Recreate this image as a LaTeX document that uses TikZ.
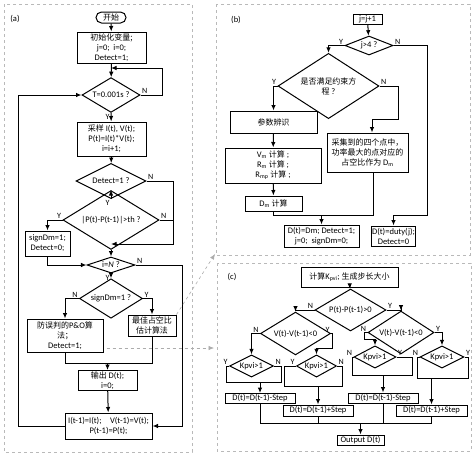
\documentclass[tikz,border=0pt]{standalone}
\usepackage{fontspec}
\setmainfont{Carlito}
\newfontfamily\cjk[Scale=0.94]{Noto Sans CJK SC}
\usetikzlibrary{positioning, shapes.geometric, arrows.meta}
\newcommand{\cn}[1]{{\cjk #1}}

\begin{document}
\begin{tikzpicture}[
          x = 1pt, y = -1pt,
       font = \fontsize{8.5}{10}\selectfont,
         >={Latex[length=5.5pt,width=4.5pt]},
 line width = 1pt,
     wh/.style 2 args = {minimum width=#1, minimum height=#2},
        box/.style = {rectangle, draw, align=center, inner sep=1pt},
        dia/.style = {diamond, draw, align=center, inner sep=-2pt},
         yn/.style = {font=\fontsize{8}{8}\selectfont, inner sep=1pt},
      panel/.style = {draw=gray!55, dashed, line width=0.6pt},
       link/.style = {->, draw=gray!65, dashed, line width=0.6pt}
                        ]
\useasboundingbox (0,0) rectangle (474,456);
% panels
\draw[panel] (4,4) rectangle (192,452);
\draw[panel] (216,4) rectangle (470,255);
\draw[panel] (217,263) rectangle (471,451);
\node (la) at (15,19) {(a)};
\node (lb) at (236,20) {(b)};
\node (lc) at (232,277) {(c)};

% (a)
\node (start)  [box, rounded corners=5.5pt, wh={30pt}{11pt}] at (111,17.5) {\cn{开始}};
\node (init)   [box, wh={69pt}{31pt}] at (111.5,47.5) {\cn{初始化变量;}\\ j=0;~ i=0;\\ Detect=1;};
\node (timer)  [dia, wh={58pt}{24pt}] at (111,95) {T=0.001s ?};
\node (sample) [box, wh={69pt}{34pt}] at (111.5,139) {\cn{采样} I(t), V(t);\\ P(t)=I(t)*V(t);\\ i=i+1;};
\node (detect) [dia, wh={70pt}{24pt}] at (111,181) {Detect=1 ?};
\node (pdiff)  [dia, wh={96pt}{26pt}] at (111,220) {|P(t)-P(t-1)|>th ?};
\node (sign)   [box, wh={45pt}{25pt}] at (47.5,243.5) {signDm=1;\\ Detect=0;};
\node (count)  [dia, wh={48pt}{16pt}] at (111,265) {i=\textit{N} ?};
\node (signdm) [dia, wh={63pt}{23pt}] at (111,298.5) {signDm=1 ?};
\node (po)     [box, wh={76pt}{33pt}] at (65,335.5) {\cn{防误判的}P\&O\cn{算}\\ \cn{法；}\\ Detect=1;};
\node (best)   [box, wh={48pt}{21pt}] at (152,325.5) {\cn{最佳占空比}\\ \cn{估计算法}};
\node (out)    [box, wh={59pt}{19pt}] at (107.5,380.5) {\cn{输出} D(t);\\ i=0;};
\node (update) [box, wh={87pt}{26pt}] at (108.5,426) {I(t-1)=I(t);\quad V(t-1)=V(t);\\ P(t-1)=P(t);};

\coordinate (m1) at (111,68);
\coordinate (m2) at (111,244);
\coordinate (m3) at (107.5,363);
\draw[->] (start) -- (init);
\draw[->] (init) -- (timer);
\draw[->] (timer.east) node[yn, above right] {N} -- (162,95) -- (162,68) -- (m1);
\draw[->] (timer.south) node[yn, below left] {Y} -- (sample);
\draw[->] (sample) -- (detect);
\draw[->] (detect.east) node[yn, above right] {N} -- (173,181) -- (173,244) -- (m2);
\draw[->] (detect.south) node[yn, below left] {Y} -- (pdiff);
\draw (pdiff.east) node[yn, above right] {N} -- (173,220);
\draw[->] (pdiff.west) node[yn, above left] {Y} -| (sign);
\draw[->] (pdiff) -- (count);
\draw[->] (sign) |- (count);
\draw[->] (count.east) node[yn, above right] {N} -- (182,265) |- (update);
\draw[->] (count.south) node[yn, below left] {Y} -- (signdm);
\draw[->] (signdm.west) node[yn, above left] {N} -| (po);
\draw[->] (signdm.east) node[yn, above right] {Y} -| (best);
\draw (po.south) -- (po.south |- m3) -- (best.south |- m3) -- (best.south);
\draw[->] (m3) -- (out);
\draw[->] (out) -- (update);
\draw[->] (update.west) -- (18,426) |- (timer.west);

% (b)
\node (jinc)    [box, wh={29pt}{10pt}] at (367.5,19) {j=j+1};
\node (jtest)   [dia, wh={48pt}{19pt}] at (369,45.5) {j>4 ?};
\node (cons)    [dia, wh={101pt}{54pt}] at (328.5,86) {\cn{是否满足约束方}\\ \cn{程} ?};
\node (ident)   [box, wh={87pt}{22pt}] at (273.5,122) {\cn{参数辨识}};
\node (calc)    [box, wh={96pt}{35pt}] at (273,165.5) {V\textsubscript{m} \cn{计算} ;\\ R\textsubscript{m} \cn{计算} ;\\ R\textsubscript{mp} \cn{计算} ;};
\node (dmcalc)  [box, wh={57pt}{15pt}] at (273.5,203.5) {D\textsubscript{m} \cn{计算}};
\node (collect) [box, wh={81pt}{39pt}] at (367.5,152.5) {\cn{采集到的四个点中，}\\ \cn{功率最大的点对应的}\\ \cn{占空比作为} D\textsubscript{m}};
\node (setdm)   [box, wh={75pt}{22pt}] at (321.5,236) {D(t)=Dm; Detect=1;\\ j=0;~ signDm=0;};
\node (duty)    [box, wh={43pt}{20pt}] at (393.5,236) {D(t)=duty(j);\\ Detect=0};

\coordinate (m4) at (393.5,215);
\coordinate (m5) at (321.5,215);
\draw[->] (jinc) -- (jtest);
\draw[->] (jtest.west) node[yn, above left] {Y} -| (cons);
\draw[->] (jtest.east) node[yn, above right] {N} -- (427,45.5) -- (427,215) -- (m4) -- (duty);
\draw[->] (cons.west) node[yn, above left] {Y} -| (ident);
\draw[->] (cons.east) node[yn, above right] {N} -- (398,86) -- (398,119) -| ([xshift=4.5pt]collect.north);
\draw[->] (ident) -- (calc);
\draw[->] (calc) -- (dmcalc);
\draw (dmcalc) |- (m5);
\draw ([xshift=5.5pt]collect.south) |- (m5);
\draw[->] (m5) -- (setdm);

% (c)
\node (kpvi)   [box, wh={97pt}{20pt}] at (349.5,277) {\cn{计算}K\textsubscript{pvi}; \cn{生成步长大小}};
\node (ptest)  [dia, wh={71pt}{24pt}] at (350.5,310) {P(t)-P(t-1)>0};
\node (vleft)  [dia, wh={70pt}{22pt}] at (295.5,333.5) {V(t)-V(t-1)<0};
\node (vright) [dia, wh={66pt}{20pt}] at (401,332.5) {V(t)-V(t-1)<0};
\node (k1)     [dia, wh={44pt}{20pt}] at (251.5,366) {Kpvi>1};
\node (k2)     [dia, wh={40pt}{20pt}] at (316.5,366) {Kpvi>1};
\node (k3)     [dia, wh={42pt}{18pt}] at (375,357) {Kpvi>1};
\node (k4)     [dia, wh={44pt}{18pt}] at (442,357) {Kpvi>1};
\node (dm1)    [box, wh={70pt}{10pt}] at (260,398.5) {D(t)=D(t-1)-Step};
\node (dp1)    [box, wh={70pt}{11pt}] at (318,410.5) {D(t)=D(t-1)+Step};
\node (dm2)    [box, wh={70pt}{10pt}] at (383,398) {D(t)=D(t-1)-Step};
\node (dp2)    [box, wh={71pt}{11pt}] at (431.5,410.5) {D(t)=D(t-1)+Step};
\node (result) [box, wh={47pt}{10pt}] at (360.5,440) {Output D(t)};

\coordinate (j1) at (260,382);
\coordinate (j2) at (318,386);
\coordinate (j3) at (383,375);
\coordinate (j4) at (431.5,378);
\coordinate (j5) at (360.5,423);
\draw[->] (kpvi) -- (ptest);
\draw[->] (ptest.west) node[yn, above left] {N} -| (vleft);
\draw[->] (ptest.east) node[yn, above right] {Y} -| (vright);
\draw[->] (vleft.west) node[yn, above left] {N} -| (k1);
\draw[->] (vleft.east) node[yn, above left] {Y} -- (332,333.5) -- (332,348) -| (k2);
\draw[->] (vright.west) node[yn, above left] {N} -- (364,332.5) -- (364,339) -| (k3);
\draw[->] (vright.east) node[yn, above right] {Y} -| (k4);
\draw (k1.west) node[yn, above left] {Y} -- (226,366) -- (226,382) -- (281,382) -- (281,366) -- (k1.east) node[yn, above right] {N};
\draw (k2.west) node[yn, above left] {Y} -- (284,366) -- (284,386) -- (342,386) -- (342,366) -- (k2.east) node[yn, above right] {N};
\draw (k3.west) node[yn, above left] {N} -- (352,357) -- (352,375) -- (412,375) -- (412,357) -- (k3.east) node[yn, above right] {Y};
\draw (k4.west) node[yn, above left] {N} -- (417,357) -- (417,378) -- (468,378) -- (468,357) -- (k4.east) node[yn, above right] {Y};
\draw[->] (j1) -- (dm1);
\draw[->] (j2) -- (dp1);
\draw[->] (j3) -- (dm2);
\draw[->] (j4) -- (dp2);
\draw (dm1.south) -- (dm1.south |- j5) -- (dp2.south |- j5) -- (dp2.south);
\draw (dp1.south) -- (dp1.south |- j5);
\draw (dm2.south) -- (dm2.south |- j5);
\draw[->] (j5) -- (result);

% links between panels
\draw[link] (best.north east) -- (215,254);
\draw[link] ([xshift=3pt, yshift=-12.5pt]po.east) -- (214,348);
\end{tikzpicture}
\end{document}
